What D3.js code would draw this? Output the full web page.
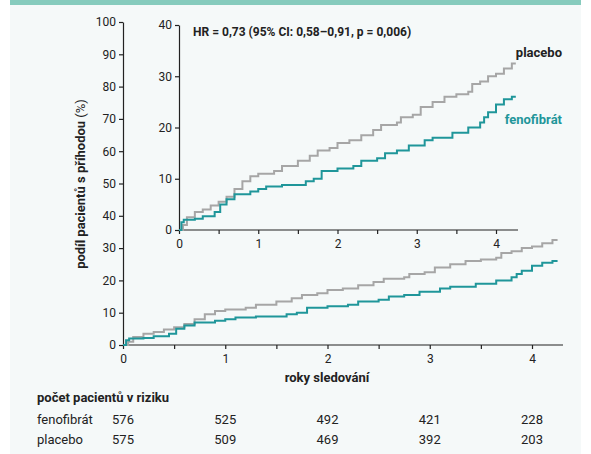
<!DOCTYPE html>
<html><head><meta charset="utf-8">
<script src="https://cdn.jsdelivr.net/npm/d3@7"></script>
<style>body{margin:0;background:#fff}text{font-family:Roboto,sans-serif;fill:#222}</style>
</head><body><div id="chart"></div>
<script>
var width = 591, height = 454;
// step data (years, % patients with event)
const placebo = [[0,0],[0.05,1],[0.1,2.5],[0.2,3.5],[0.3,4],[0.4,4.8],[0.5,5.5],[0.6,6.5],[0.7,8],[0.8,9.5],[0.9,10.5],[1.0,11],[1.2,11.5],[1.3,12.5],[1.5,13.5],[1.65,14.5],[1.75,15.5],[1.9,16],[2.0,17],[2.15,17.5],[2.3,18.5],[2.45,19.5],[2.55,20.5],[2.75,21],[2.8,22],[2.95,22.5],[3.05,24],[3.2,25],[3.35,26],[3.5,26.5],[3.65,27],[3.7,28.5],[3.8,29],[3.9,30],[4.0,30.5],[4.1,31.5],[4.2,32.5],[4.25,32.5]];
const fenofibrat = [[0,0],[0.03,1.5],[0.06,2],[0.2,2.2],[0.3,2.7],[0.45,3.5],[0.52,5],[0.6,6],[0.7,7],[0.9,7.5],[1.0,8],[1.1,8.5],[1.3,8.8],[1.6,9.5],[1.7,10],[1.8,11.5],[2.0,12],[2.2,12.5],[2.3,13.5],[2.5,14],[2.6,15],[2.75,15.5],[2.9,16.5],[3.1,17.5],[3.2,18],[3.45,19],[3.65,20],[3.8,21],[3.85,22],[3.9,23],[4.0,24.5],[4.1,25.5],[4.2,26],[4.25,26]];
const riskTimes = [0,1,2,3,4];
const riskRows = [["fenofibrát",[576,525,492,421,228]],["placebo",[575,509,469,392,203]]];
const teal = "#1f969a", grey = "#a6a6a6";

var svg = d3.select("#chart").append("svg").attr("width", width).attr("height", height);
svg.append("rect").attr("x",10).attr("y",0).attr("width",571).attr("height",height).attr("fill","#f5f9f9");
svg.append("rect").attr("x",10).attr("y",0).attr("width",571).attr("height",5).attr("fill","#86cbbd");

function panel(x0,x1,y0,y1,ymax,ystep,halfTicks){
	var x = d3.scaleLinear().domain([0,4]).range([x0,x1]);
	var y = d3.scaleLinear().domain([0,ymax]).range([y0,y1]);
	var xe = x.invert(halfTicks);
	var g = svg.append("g");
	g.append("g").attr("transform","translate(0,"+y0+")")
		.call(d3.axisBottom(x).tickValues(d3.range(0,xe,0.5)).tickSize(4).tickFormat(d => d%1===0?d:""))
		.call(a => a.select(".domain").attr("d","M"+x0+",0H"+halfTicks))
		.call(a => a.selectAll("text").attr("font-size",12).attr("dy","0.9em"));
	g.append("g").attr("transform","translate("+x0+",0)")
		.call(d3.axisLeft(y).tickValues(d3.range(0,ymax+1,ystep)).tickSize(4).tickSizeOuter(0))
		.call(a => a.selectAll("text").attr("font-size",12));
	g.selectAll(".domain,line").attr("stroke","#222").attr("stroke-width",1.2);
	var line = d3.line().x(d=>x(d[0])).y(d=>y(d[1])).curve(d3.curveStepAfter);
	g.append("path").attr("d",line(placebo)).attr("fill","none").attr("stroke",grey).attr("stroke-width",2);
	g.append("path").attr("d",line(fenofibrat)).attr("fill","none").attr("stroke",teal).attr("stroke-width",2);
	return g;
}
panel(123,532,345,22,100,10,563);
svg.append("rect").attr("x",160).attr("y",18).attr("width",400).attr("height",212).attr("fill","#f5f9f9");
panel(179,496,230,25,40,10,518);

svg.append("text").attr("x",193).attr("y",36).attr("font-size",12).attr("font-weight","bold").text("HR = 0,73 (95% CI: 0,58–0,91, p = 0,006)");
svg.append("text").attr("x",562).attr("y",57).attr("text-anchor","end").attr("font-size",13).attr("font-weight","bold").text("placebo");
svg.append("text").attr("x",562).attr("y",124).attr("text-anchor","end").attr("font-size",13).attr("font-weight","bold").style("fill",teal).text("fenofibrát");

var yl = svg.append("text").attr("transform","translate(85,184) rotate(-90)").attr("text-anchor","middle").attr("font-size",13);
yl.append("tspan").attr("font-weight","bold").text("podíl pacientů s příhodou ");
yl.append("tspan").text("(%)");
svg.append("text").attr("x",327).attr("y",382).attr("text-anchor","middle").attr("font-size",13).attr("font-weight","bold").text("roky sledování");

var xr = d3.scaleLinear().domain([0,4]).range([123,532]);
svg.append("text").attr("x",37).attr("y",402).attr("font-size",13).attr("font-weight","bold").text("počet pacientů v riziku");
riskRows.forEach(function(r,i){
	var yy = 424 + i*20;
	svg.append("text").attr("x",37).attr("y",yy).attr("font-size",13).text(r[0]);
	svg.selectAll(null).data(r[1]).join("text")
		.attr("x",(d,j)=>xr(riskTimes[j])).attr("y",yy).attr("text-anchor","middle").attr("font-size",13).text(d=>d);
});
</script></body></html>
